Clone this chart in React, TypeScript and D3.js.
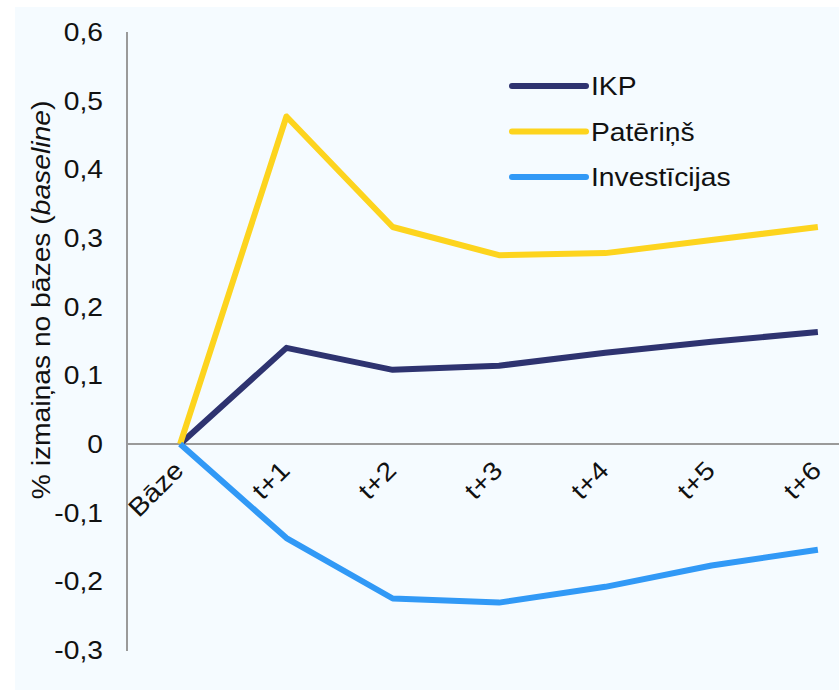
import React from "react";
import * as d3 from "d3";

const categories = ["Bāze", "t+1", "t+2", "t+3", "t+4", "t+5", "t+6"];
const ikp = [0, 0.14, 0.108, 0.114, 0.133, 0.149, 0.163];
const paterins = [0, 0.477, 0.316, 0.275, 0.278, 0.297, 0.316];
const investicijas = [0, -0.137, -0.225, -0.231, -0.208, -0.177, -0.154];
const yTicks = [-0.3, -0.2, -0.1, 0, 0.1, 0.2, 0.3, 0.4, 0.5, 0.6];
const seriesNames = ["IKP", "Patēriņš", "Investīcijas"];
const seriesColors = ["#2E3370", "#FDD41E", "#3199F6"];

export default function App() {
  const W = 839, H = 692;
  const SX = 1.13;
  const x = d3.scaleBand<string>().domain(categories).range([127, 871]).padding(0);
  const y = d3.scaleLinear().domain([-0.3, 0.6]).range([650, 32]);
  const cx = (c: string) => (x(c) as number) + x.bandwidth() / 2;
  const line = d3
    .line<number>()
    .x((_, i) => cx(categories[i]))
    .y((d) => y(d));
  const series = [ikp, paterins, investicijas];
  const fmt = (v: number) => (v === 0 ? "0" : d3.format(".1f")(v).replace(".", ",").replace("−", "-"));
  const font = "'Liberation Sans', Arial, sans-serif";

  return (
    <svg width={W} height={H} style={{ position: "absolute", left: 0, top: 0 }} fontFamily={font}>
      <rect x={0} y={0} width={W} height={H} fill="#ffffff" />
      <rect x={15} y={7} width={W - 15} height={H - 9} fill="#F5FBFF" />
      <line x1={127} x2={127} y1={y(0.6)} y2={y(-0.3) + 1} stroke="#9a9a9a" strokeWidth={2} />
      <line x1={127} x2={W} y1={y(0)} y2={y(0)} stroke="#9a9a9a" strokeWidth={2} />
      {yTicks.map((t) => (
        <text
          key={t}
          transform={`translate(103,${y(t)}) scale(${SX},1)`}
          dy="0.36em"
          textAnchor="end"
          fontSize={25}
          fill="#111"
        >
          {fmt(t)}
        </text>
      ))}
      {categories.map((c) => (
        <text
          key={c}
          transform={`translate(${cx(c) + 5},${y(0) + 28}) rotate(-45) scale(${SX},1)`}
          textAnchor="end"
          fontSize={25.5}
          fill="#111"
        >
          {c}
        </text>
      ))}
      <text
        transform={`translate(50,300) rotate(-90) scale(${SX},1)`}
        textAnchor="middle"
        fontSize={25}
        fill="#111"
      >
        % izmaiņas no bāzes (<tspan fontStyle="italic">baseline</tspan>)
      </text>
      {series.map((s, i) => (
        <path
          key={seriesNames[i]}
          d={line(s) as string}
          fill="none"
          stroke={seriesColors[i]}
          strokeWidth={6}
          strokeLinejoin="round"
        />
      ))}
      {seriesNames.map((n, i) => {
        const ly = 86 + i * 45.5;
        return (
          <g key={n}>
            <line x1={512} x2={586} y1={ly} y2={ly} stroke={seriesColors[i]} strokeWidth={6} strokeLinecap="round" />
            <text transform={`translate(591,${ly}) scale(${SX},1)`} dy="0.36em" fontSize={25} fill="#111">
              {n}
            </text>
          </g>
        );
      })}
    </svg>
  );
}
